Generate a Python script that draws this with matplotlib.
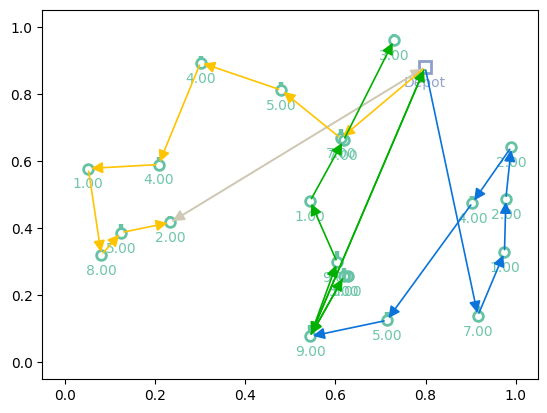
import matplotlib
matplotlib.use("Agg")
import matplotlib.pyplot as plt

# ---- data ----
node_names = ["A", "B", "C", "D", "E", "F", "G", "H", "J1", "J2", "K",
              "L", "M", "N", "O", "P", "Q", "R", "S", "T", "T2"]
node_x = [0.301, 0.208, 0.052, 0.480, 0.081, 0.125, 0.234, 0.730, 0.612, 0.618, 0.544,
          0.990, 0.904, 0.978, 0.975, 0.916, 0.714, 0.544, 0.604, 0.619, 0.627]
node_y = [0.894, 0.590, 0.578, 0.812, 0.320, 0.387, 0.417, 0.961, 0.668, 0.662, 0.481,
          0.642, 0.476, 0.487, 0.328, 0.139, 0.125, 0.077, 0.298, 0.256, 0.256]
node_labels = ["4.00", "4.00", "1.00", "5.00", "8.00", "5.00", "2.00", "3.00", "7.00", "7.00", "1.00",
               "2.00", "4.00", "2.00", "1.00", "7.00", "5.00", "9.00", "9.00", "5.00", "5.00"]
node_bars = [0.008, 0.008, 0.0, 0.011, 0.0, 0.013, 0.005, 0.005, 0.016, 0.0, 0.0,
             0.003, 0.007, 0.0, 0.0, 0.016, 0.011, 0.020, 0.020, 0.011, 0.0]

depot_x, depot_y = 0.799, 0.880
depot_label = "Depot"

route_yellow = ["Depot", "J1", "D", "A", "B", "C", "E", "F", "G"]
route_grey_out = ["Depot", "G"]
route_grey_back = ["G", "Depot"]
route_green = ["Depot", "R", "S", "K", "J2", "H"]
route_green2 = ["R", "T", "R", "Depot"]
route_blue = ["Depot", "P", "O", "N", "L", "M", "Q", "R"]

routes = [
    (route_grey_out, "#cfc8b4"),
    (route_grey_back, "#cfc8b4"),
    (route_yellow, "#ffc400"),
    (route_blue, "#0a74da"),
    (route_green2, "#00b000"),
    (route_green, "#00b000"),
]

node_color = "#66c2a5"
depot_color = "#8da0cb"

# ---- plot ----
fig = plt.figure(figsize=(5.47, 4.13), dpi=100)
ax = fig.add_axes([0.0773, 0.0823, 0.9068, 0.8927])

pos = {n: (x, y) for n, x, y in zip(node_names, node_x, node_y)}
pos["Depot"] = (depot_x, depot_y)

for n, x, y, lab, b in zip(node_names, node_x, node_y, node_labels, node_bars):
    ax.plot(x, y, "o", ms=7, mew=2, mfc="none", mec=node_color, zorder=2)
    if b > 0:
        ax.plot([x, x], [y + 0.013, y + 0.013 + b], color=node_color, lw=3.2,
                solid_capstyle="butt", zorder=2)
    ax.annotate(lab, (x, y), xytext=(0, -11.5), textcoords="offset points",
                ha="center", va="center", color=node_color, fontsize=10, alpha=0.95,
                zorder=3)

ax.plot(depot_x, depot_y, "s", ms=9, mew=2, mfc="none", mec=depot_color, zorder=2)
ax.annotate(depot_label, (depot_x, depot_y), xytext=(0, -11.5), textcoords="offset points",
            ha="center", va="center", color=depot_color, fontsize=10, alpha=0.95, zorder=3)

for route, col in routes:
    for a, b in zip(route[:-1], route[1:]):
        ax.annotate("", xy=pos[b], xytext=pos[a],
                    arrowprops=dict(arrowstyle="-|>", color=col, lw=1.2,
                                    mutation_scale=17),
                    zorder=4)

ax.set_xlim(-0.05, 1.05)
ax.set_ylim(-0.05, 1.05)

fig.savefig("out.png", dpi=100)
